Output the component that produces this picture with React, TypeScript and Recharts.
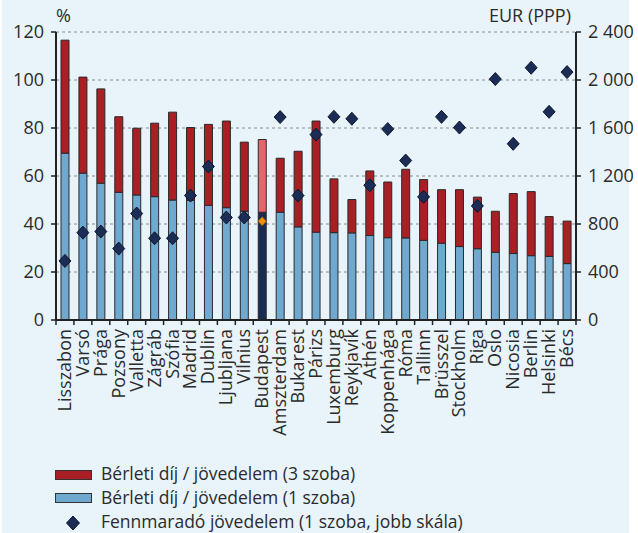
import React from "react";
import { ComposedChart, Bar, Line, XAxis, YAxis, CartesianGrid, Cell } from "recharts";

const categories = ["Lisszabon","Varsó","Prága","Pozsony","Valletta","Zágráb","Szófia","Madrid","Dublin","Ljubljana","Vilnius","Budapest","Amszterdam","Bukarest","Párizs","Luxemburg","Reykjavík","Athén","Koppenhága","Róma","Tallinn","Brüsszel","Stockholm","Riga","Oslo","Nicosia","Berlin","Helsinki","Bécs"];
const rent3Room = [116.6,101.2,96.3,84.7,79.9,82.0,86.6,80.2,81.5,82.9,74.1,75.2,67.4,70.3,82.9,58.8,50.2,62.1,57.5,62.8,58.5,54.3,54.3,51.2,45.3,52.7,53.5,43.1,41.2];
const rent1Room = [69.5,61.2,57.0,53.2,52.1,51.4,50.0,49.8,47.8,46.8,45.3,44.9,44.9,38.8,36.6,36.4,36.3,35.2,34.3,34.2,33.2,32.0,30.6,29.7,28.2,27.7,26.8,26.5,23.5];
const remainingIncome = [492,728,737,595,887,681,681,1037,1279,854,854,823,1691,1037,1545,1693,1677,1123,1591,1329,1026,1693,1604,951,2008,1468,2102,1735,2066];
const leftTicks = [0,20,40,60,80,100,120];
const rightTicks = [0,400,800,1200,1600,2000,2400];

const HIGHLIGHT = "Budapest";
const RED = "#A81F24";
const RED_HI = "#E8636A";
const BLUE = "#6FA9D0";
const BLUE_HI = "#1A2B52";
const NAVY = "#1B2D55";
const ORANGE = "#F39200";
const FONT = "'Open Sans', sans-serif";
const TEXT = "#2b2b2b";

const data = categories.map((name, i) => ({
  name,
  r1: rent1Room[i],
  r3extra: +(rent3Room[i] - rent1Room[i]).toFixed(2),
  rem: remainingIncome[i],
}));

const PLOT_W = 520;
const BAND = PLOT_W / categories.length;

const XTick = (props: any) => {
  const { x, y, payload, index } = props;
  const isLast = index === categories.length - 1;
  return (
    <g>
      <line x1={x - BAND / 2} x2={x - BAND / 2} y1={y - 8} y2={y - 3} stroke="#222" strokeWidth={1.5} />
      {isLast && <line x1={x + BAND / 2} x2={x + BAND / 2} y1={y - 8} y2={y - 3} stroke="#222" strokeWidth={1.5} />}
      <text x={x} y={y} transform={`rotate(-90, ${x}, ${y})`} dx={-1} dy={6} textAnchor="end" fontSize={18} fill={TEXT} fontFamily={FONT}>
        {payload.value}
      </text>
    </g>
  );
};

const Diamond = (props: any) => {
  const { cx, cy, payload } = props;
  if (cx == null || cy == null) return null;
  const hi = payload && payload.name === HIGHLIGHT;
  const r = hi ? 4.5 : 6.5;
  return (
    <path
      key={`d-${payload?.name}`}
      d={`M${cx},${cy - r} L${cx + r * 0.92},${cy} L${cx},${cy + r} L${cx - r * 0.92},${cy} Z`}
      fill={hi ? ORANGE : NAVY}
      stroke={hi ? "#8a5a10" : "#0d1530"}
      strokeWidth={1}
    />
  );
};

const fmt = (v: number) => (v >= 1000 ? `${Math.floor(v / 1000)} ${String(v % 1000).padStart(3, "0")}` : `${v}`);

export default function App() {
  return (
    <div style={{ position: "absolute", left: 0, top: 0, width: 638, height: 533, background: "#fff", fontFamily: FONT }}>
      <div style={{ position: "absolute", left: 2, top: 0, width: 627, height: 533, background: "#E8F3FA" }} />
      <div style={{ position: "absolute", left: 0, top: 0 }}>
        <ComposedChart width={638} height={455} data={data} margin={{ top: 32, right: 0, bottom: 0, left: 0 }} barGap={0}>
          <CartesianGrid yAxisId="left" vertical={false} stroke="#8a8a8a" strokeDasharray="3 3" />
          <XAxis
            dataKey="name"
            interval={0}
            height={135}
            tick={<XTick />}
            tickLine={false}
            axisLine={{ stroke: "#222", strokeWidth: 2 }}
          />
          <YAxis
            yAxisId="left"
            width={56}
            domain={[0, 120]}
            ticks={leftTicks}
            tickSize={5}
            tickMargin={7}
            axisLine={{ stroke: "#222", strokeWidth: 2 }}
            tickLine={{ stroke: "#222", strokeWidth: 1.5 }}
            tick={{ fontSize: 18, fill: TEXT, fontFamily: FONT }}
          />
          <YAxis
            yAxisId="right"
            orientation="right"
            width={62}
            domain={[0, 2400]}
            ticks={rightTicks}
            tickFormatter={fmt}
            tickSize={5}
            tickMargin={7}
            axisLine={{ stroke: "#222", strokeWidth: 2 }}
            tickLine={{ stroke: "#222", strokeWidth: 1.5 }}
            tick={{ fontSize: 18, fill: TEXT, fontFamily: FONT, textAnchor: "start" }}
          />
          <Bar yAxisId="left" dataKey="r1" stackId="a" barSize={8} fill={BLUE} stroke="#2a2a2a" strokeWidth={1} isAnimationActive={false}>
            {data.map((d) => (
              <Cell key={`b1-${d.name}`} fill={d.name === HIGHLIGHT ? BLUE_HI : BLUE} />
            ))}
          </Bar>
          <Bar yAxisId="left" dataKey="r3extra" stackId="a" barSize={8} fill={RED} stroke="#2a2a2a" strokeWidth={1} isAnimationActive={false}>
            {data.map((d) => (
              <Cell key={`b3-${d.name}`} fill={d.name === HIGHLIGHT ? RED_HI : RED} />
            ))}
          </Bar>
          <Line yAxisId="right" dataKey="rem" stroke="none" strokeWidth={0} dot={<Diamond />} activeDot={false} isAnimationActive={false} />
        </ComposedChart>
      </div>
      <div style={{ position: "absolute", left: 56, top: 5, fontSize: 18, color: TEXT, lineHeight: "20px" }}>%</div>
      <div style={{ position: "absolute", left: 489, top: 5, fontSize: 18, color: TEXT, lineHeight: "20px" }}>EUR (PPP)</div>
      <div style={{ position: "absolute", left: 55, top: 470, width: 37, height: 10, background: RED, border: "1px solid #333", boxSizing: "border-box" }} />
      <div style={{ position: "absolute", left: 101, top: 463, fontSize: 17.5, color: TEXT, lineHeight: "20px" }}>Bérleti díj / jövedelem (3 szoba)</div>
      <div style={{ position: "absolute", left: 55, top: 493, width: 37, height: 10, background: BLUE, border: "1px solid #333", boxSizing: "border-box" }} />
      <div style={{ position: "absolute", left: 101, top: 487, fontSize: 17.5, color: TEXT, lineHeight: "20px" }}>Bérleti díj / jövedelem (1 szoba)</div>
      <svg style={{ position: "absolute", left: 64, top: 514 }} width={18} height={18}>
        <path d="M9,2 L15.5,9 L9,16 L2.5,9 Z" fill={NAVY} stroke="#0d1530" strokeWidth={1} />
      </svg>
      <div style={{ position: "absolute", left: 101, top: 511, fontSize: 17.5, color: TEXT, lineHeight: "20px" }}>Fennmaradó jövedelem (1 szoba, jobb skála)</div>
    </div>
  );
}
